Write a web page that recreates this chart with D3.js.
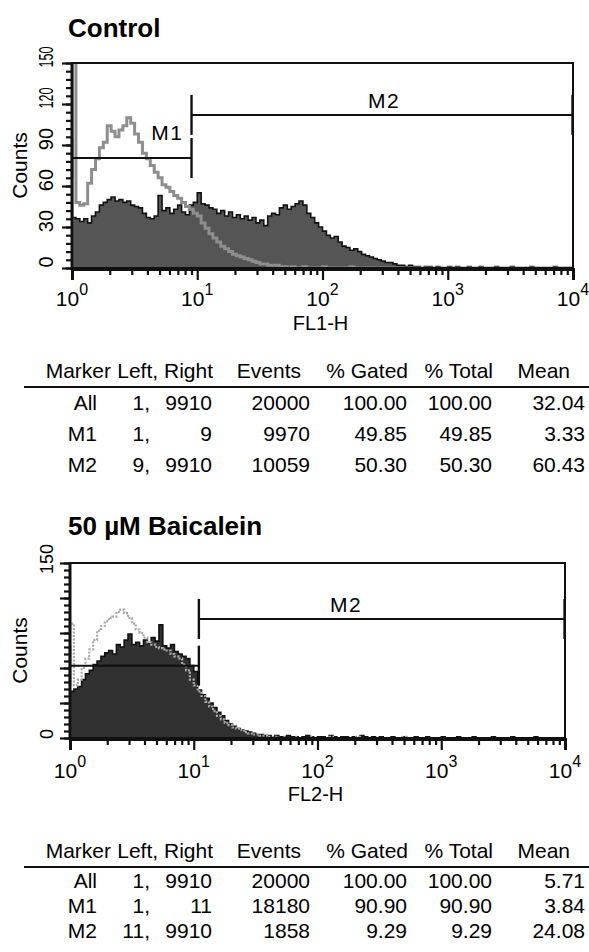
<!DOCTYPE html>
<html>
<head>
<meta charset="utf-8">
<script src="https://cdn.jsdelivr.net/npm/d3@7"></script>
<style>
  body { margin: 0; background: #fff; }
  svg { display: block; font-family: "Liberation Sans", Arial, Helvetica, sans-serif; }
</style>
</head>
<body>
<svg id="fig" width="589" height="952"></svg>
<script>
// histogram channels: 32 bins per decade, 4 decades (10^0 .. 10^4)
var binsPerDecade = 32;

// Control, FL1-H (stained, filled)
var controlStained = [
  37, 36, 34, 36, 33, 38, 41, 46, 48, 50,
  52, 49, 50, 48, 49, 46, 45, 44, 40, 37,
  36, 38, 53, 42, 44, 40, 43, 46, 41, 39,
  46, 48, 55, 47, 46, 44, 43, 40, 42, 38,
  41, 37, 39, 36, 38, 35, 37, 33, 35, 31,
  38, 40, 39, 44, 46, 43, 45, 47, 49, 46,
  40, 37, 33, 30, 27, 24, 22, 23, 19, 16,
  15, 13, 14, 12, 10, 9, 8, 7, 6, 5,
  4, 4, 3, 2, 2, 1, 2, 1, 1, 0,
  1, 1, 0, 1, 0, 0, 1, 0, 1, 0,
  0, 1, 0, 0, 1, 0, 0, 0, 1, 0,
  0, 0, 1, 0, 0, 0, 0, 1, 0, 0,
  0, 0, 0, 1, 0, 0, 0, 0
];
// Control, FL1-H (unstained, grey outline)
var controlBlank = [
  160, 48, 46, 47, 62, 72, 80, 88, 92, 104,
  100, 96, 101, 104, 110, 106, 98, 92, 84, 80,
  75, 70, 66, 61, 59, 56, 53, 51, 48, 45,
  43, 40, 38, 33, 29, 25, 22, 19, 16, 14,
  12, 10, 9, 8, 7, 6, 5, 4, 3, 3,
  2, 2, 2, 1, 1, 0, 1, 0, 0, 1,
  0, 0, 0, 0, 1, 0, 0, 0, 0, 0,
  0, 1, 0, 0, 0, 0, 0, 0, 0, 0,
  0, 0, 0, 0, 0, 0, 0, 0, 0, 0,
  0, 0, 0, 0, 0, 0, 0, 0, 0, 0,
  0, 0, 0, 0, 0, 0, 0, 0, 0, 0,
  0, 0, 0, 0, 0, 0, 0, 0, 0, 0,
  0, 0, 0, 0, 0, 0, 0, 0
];
// 50 uM Baicalein, FL2-H (stained, filled)
var baicaleinStained = [
  40, 42, 44, 50, 55, 58, 63, 66, 70, 73,
  75, 72, 80, 78, 84, 89, 80, 82, 79, 84,
  81, 86, 83, 97, 79, 77, 80, 74, 72, 70,
  68, 62, 57, 41, 37, 34, 30, 26, 22, 19,
  15, 12, 10, 8, 7, 6, 5, 4, 3, 3,
  2, 2, 1, 2, 1, 1, 2, 1, 1, 0,
  1, 2, 1, 0, 1, 1, 0, 2, 1, 0,
  1, 1, 0, 1, 0, 2, 1, 0, 1, 0,
  1, 0, 0, 1, 0, 0, 1, 0, 0, 1,
  0, 0, 1, 0, 0, 0, 1, 0, 0, 0,
  1, 0, 0, 0, 1, 0, 0, 0, 0, 1,
  0, 0, 0, 0, 1, 0, 0, 0, 0, 0,
  1, 0, 0, 0, 0, 0, 0, 0
];
// 50 uM Baicalein, FL2-H (unstained, dotted outline)
var baicaleinBlank = [
  98, 45, 50, 60, 68, 76, 84, 92, 96, 100,
  103, 104, 108, 110, 107, 103, 98, 93, 90, 86,
  82, 80, 78, 77, 76, 75, 72, 70, 68, 63,
  58, 50, 45, 40, 36, 31, 27, 23, 19, 16,
  13, 11, 9, 8, 7, 5, 4, 3, 3, 2,
  2, 1, 1, 1, 0, 1, 0, 0, 1, 0,
  0, 0, 1, 0, 0, 0, 0, 1, 0, 0,
  0, 0, 0, 0, 1, 0, 0, 0, 0, 0,
  0, 0, 0, 0, 0, 0, 1, 0, 0, 0,
  0, 0, 0, 0, 0, 0, 0, 0, 0, 0,
  0, 0, 0, 0, 0, 0, 0, 0, 0, 0,
  0, 0, 0, 0, 0, 0, 0, 0, 0, 0,
  0, 0, 0, 0, 0, 0, 0, 0
];

var decades = [0, 1, 2, 3, 4];
var controlCountLabels = [0, 30, 60, 90, 120, 150];
var baicaleinCountLabels = [0, 150];

var controlMarkers = [{name: "M1", left: 1, right: 9}, {name: "M2", left: 9, right: 9910}];
var baicaleinMarkers = [{name: "M1", left: 1, right: 11}, {name: "M2", left: 11, right: 9910}];

var tableHeader = ["Marker", "Left, Right", "Events", "% Gated", "% Total", "Mean"];
var controlRows = [
  ["All", "1,", "9910", "20000", "100.00", "100.00", "32.04"],
  ["M1", "1,", "9", "9970", "49.85", "49.85", "3.33"],
  ["M2", "9,", "9910", "10059", "50.30", "50.30", "60.43"]
];
var baicaleinRows = [
  ["All", "1,", "9910", "20000", "100.00", "100.00", "5.71"],
  ["M1", "1,", "11", "18180", "90.90", "90.90", "3.84"],
  ["M2", "11,", "9910", "1858", "9.29", "9.29", "24.08"]
];

var svg = d3.select("#fig");
svg.append("rect").attr("width", 589).attr("height", 952).attr("fill", "#fff");

function histPoints(values) {
  var pts = [[1, 0]];
  values.forEach(function(v, i) { pts.push([Math.pow(10, i / binsPerDecade), v]); });
  pts.push([Math.pow(10, values.length / binsPerDecade), 0]);
  return pts;
}

function drawChart(cfg) {
  var g = svg.append("g").attr("id", cfg.id);
  var x = d3.scaleLog().domain([1, 10000]).range([cfg.left, cfg.right]);
  var y = d3.scaleLinear().domain([0, 150]).range([cfg.bottom, cfg.top]);

  g.append("text").attr("x", 68).attr("y", cfg.titleY)
    .attr("font-size", 26).attr("font-weight", "bold").text(cfg.title);

  var clipId = cfg.id + "clip";
  g.append("clipPath").attr("id", clipId).append("rect")
    .attr("x", cfg.left).attr("y", cfg.top)
    .attr("width", cfg.right - cfg.left).attr("height", cfg.bottom - cfg.top);
  var plot = g.append("g").attr("clip-path", "url(#" + clipId + ")");

  var area = d3.area().curve(d3.curveStepAfter)
    .x(function(d) { return x(d[0]); })
    .y0(y(0))
    .y1(function(d) { return y(Math.min(d[1], 155)); });
  var line = d3.line().curve(d3.curveStepAfter)
    .x(function(d) { return x(d[0]); })
    .y(function(d) { return y(Math.min(d[1], 155)); });

  var stained = histPoints(cfg.stained);
  plot.append("path").attr("d", area(stained)).attr("fill", cfg.fill);
  plot.append("path").attr("d", line(stained)).attr("fill", "none")
    .attr("stroke", "#111").attr("stroke-width", 1.6);

  var blank = histPoints(cfg.blank);
  plot.append("path").attr("d", line(blank)).attr("fill", "none")
    .attr("stroke", cfg.blankColor).attr("stroke-width", cfg.blankWidth)
    .attr("stroke-dasharray", cfg.blankDash);

  // frame
  g.append("rect").attr("x", cfg.left).attr("y", cfg.top)
    .attr("width", cfg.right - cfg.left).attr("height", cfg.bottom - cfg.top)
    .attr("fill", "none").attr("stroke", "#111").attr("stroke-width", 2);
  g.append("line").attr("x1", cfg.left).attr("x2", cfg.left)
    .attr("y1", cfg.top).attr("y2", cfg.bottom + 2)
    .attr("stroke", "#111").attr("stroke-width", 3);

  // x axis
  var minor = [];
  decades.slice(0, 4).forEach(function(d) {
    for (var k = 2; k <= 9; k++) minor.push(k * Math.pow(10, d));
  });
  var majors = decades.map(function(d) { return Math.pow(10, d); });
  var xg = g.append("g").attr("transform", "translate(0," + (cfg.bottom + 1) + ")");
  xg.call(d3.axisBottom(x).tickValues(minor).tickSize(6).tickFormat(""));
  xg.append("g").call(d3.axisBottom(x).tickValues(majors).tickSize(11).tickFormat(""));
  xg.selectAll("path.domain").attr("stroke-width", 3).attr("stroke", "#111");
  xg.selectAll(".tick line").attr("stroke-width", 2.2).attr("stroke", "#111");

  var xl = g.selectAll(".xlab").data(decades).enter().append("text")
    .attr("class", "xlab")
    .attr("x", function(d) { return x(Math.pow(10, d)); })
    .attr("y", cfg.bottom + cfg.xLabelDy)
    .attr("text-anchor", "middle").attr("font-size", 21);
  xl.append("tspan").text("10");
  xl.append("tspan").attr("dy", -11).attr("font-size", 16).text(function(d) { return d; });

  g.append("text").attr("x", (cfg.left + cfg.right) / 2 - 2).attr("y", cfg.bottom + cfg.xTitleDy)
    .attr("text-anchor", "middle").attr("font-size", 20).text(cfg.xTitle);

  // y axis
  var yg = g.append("g").attr("transform", "translate(" + (cfg.left - 1) + ",0)");
  yg.call(d3.axisLeft(y).tickValues(d3.range(0, 151, 6)).tickSize(5).tickFormat(""));
  yg.append("g").call(d3.axisLeft(y).tickValues(d3.range(0, 151, 30)).tickSize(9).tickFormat(""));
  yg.selectAll("path.domain").remove();
  yg.selectAll(".tick line").attr("stroke-width", 2.2).attr("stroke", "#111");

  g.selectAll(".ylab").data(cfg.countLabels).enter().append("text")
    .attr("class", "ylab")
    .attr("transform", function(d) { return "translate(53," + (y(d) - cfg.yLabelShift) + ") rotate(-90)"; })
    .attr("text-anchor", "middle").attr("font-size", cfg.yLabelSize)
    .attr("textLength", function(d) { return cfg.squeeze && String(d).length > 2 ? 21 : null; })
    .attr("lengthAdjust", "spacingAndGlyphs")
    .text(function(d) { return d; });

  g.append("text")
    .attr("transform", "translate(27," + ((cfg.top + cfg.bottom) / 2) + ") rotate(-90)")
    .attr("text-anchor", "middle").attr("font-size", 21).text("Counts");

  // markers
  cfg.markers.forEach(function(m, i) {
    var level = y(cfg.markerLevels[i]);
    var x1 = x(m.left), x2 = x(m.right);
    var mg = g.append("g").attr("stroke", "#111").attr("stroke-width", 2);
    mg.append("line").attr("x1", x1).attr("x2", x2).attr("y1", level).attr("y2", level);
    [x1, x2].forEach(function(xx) {
      mg.append("line").attr("x1", xx).attr("x2", xx)
        .attr("y1", level - 20).attr("y2", level + 20).attr("stroke-width", 2.4);
    });
    if (cfg.markerLabels[i]) {
      var lab = cfg.markerLabels[i];
      g.append("text")
        .attr("x", lab.anchor === "end" ? x2 - 8 : lab.x)
        .attr("y", level - lab.dy)
        .attr("text-anchor", lab.anchor).attr("font-size", 21)
        .attr("letter-spacing", 1.5).text(m.name);
    }
  });
}

function drawTable(cfg) {
  var g = svg.append("g");
  var headRight = [111, 213, 301, 408, 493, 570];
  var colRight = [97, 150, 212, 310, 407, 492, 585];
  g.selectAll(".th").data(tableHeader).enter().append("text")
    .attr("x", function(d, i) { return headRight[i]; })
    .attr("y", cfg.headerY)
    .attr("text-anchor", "end").attr("font-size", 21).text(function(d) { return d; });
  g.append("line").attr("x1", 24).attr("x2", 589)
    .attr("y1", cfg.ruleY).attr("y2", cfg.ruleY)
    .attr("stroke", "#111").attr("stroke-width", 2.2);
  cfg.rows.forEach(function(row, r) {
    g.selectAll(".r" + r).data(row).enter().append("text")
      .attr("x", function(d, i) { return colRight[i]; })
      .attr("y", cfg.rowY[r])
      .attr("text-anchor", "end").attr("font-size", 21).text(function(d) { return d; });
  });
}

drawChart({
  id: "control", title: "Control", titleY: 37,
  left: 72, right: 573, top: 63, bottom: 268,
  stained: controlStained, blank: controlBlank,
  fill: "#555555", blankColor: "#8e8e8e", blankWidth: 3, blankDash: null,
  countLabels: controlCountLabels, yLabelSize: 20, yLabelShift: 6, squeeze: true,
  xLabelDy: 38, xTitleDy: 62, xTitle: "FL1-H",
  markers: controlMarkers, markerLevels: [80.5, 112],
  markerLabels: [{anchor: "end", dy: 18}, {anchor: "middle", x: 384, dy: 7}]
});
drawTable({ rows: controlRows, headerY: 378, ruleY: 387, rowY: [410, 441, 472] });

drawChart({
  id: "baicalein", title: "50 \u00b5M Baicalein", titleY: 535,
  left: 70, right: 565, top: 563, bottom: 738,
  stained: baicaleinStained, blank: baicaleinBlank,
  fill: "#313131", blankColor: "#a8a8a8", blankWidth: 2.2, blankDash: "2,1.5",
  countLabels: baicaleinCountLabels, yLabelSize: 18, yLabelShift: 4, squeeze: false,
  xLabelDy: 40, xTitleDy: 63, xTitle: "FL2-H",
  markers: baicaleinMarkers, markerLevels: [62, 102],
  markerLabels: [null, {anchor: "middle", x: 346, dy: 7}]
});
drawTable({ rows: baicaleinRows, headerY: 858, ruleY: 867, rowY: [888, 913, 938] });
</script>
</body>
</html>
